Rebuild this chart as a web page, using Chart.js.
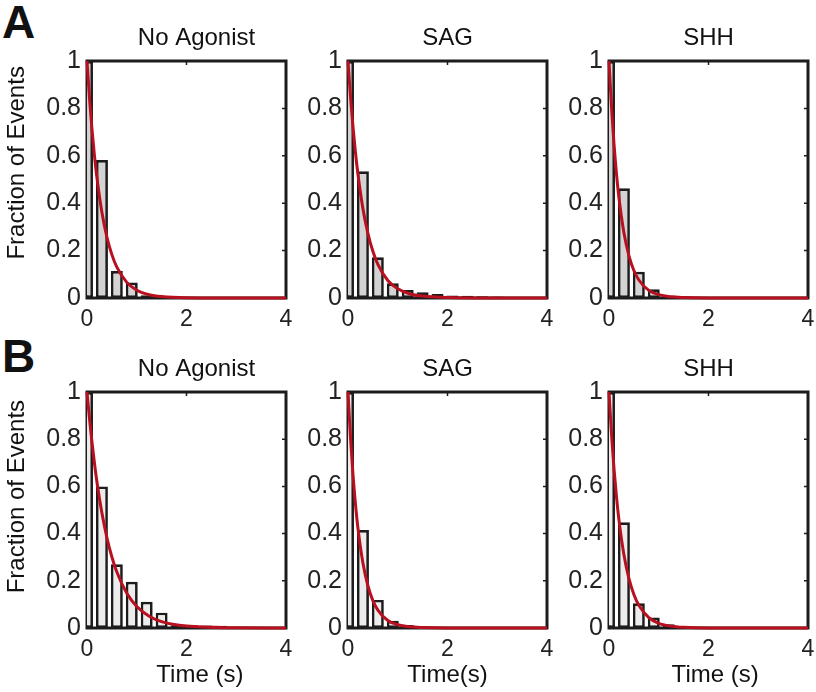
<!DOCTYPE html>
<html>
<head>
<meta charset="utf-8">
<script src="https://cdn.jsdelivr.net/npm/chart.js@4/dist/chart.umd.min.js"></script>
<style>
  body { margin: 0; background: #fff; }
  #wrap { position: relative; width: 816px; height: 692px; overflow: hidden; font-family: "Liberation Sans", Arial, sans-serif; }
  canvas { position: absolute; }
  .panel-letter { position: absolute; left: 2px; font-size: 46px; font-weight: bold; line-height: 46px; color: #111; }
</style>
</head>
<body>
<div id="wrap">
  <div class="panel-letter" style="top:-1px">A</div>
  <div class="panel-letter" style="top:333px">B</div>
</div>
<script>
// histogram bin centres (s) and bar heights
const binCenters = [0, 0.3, 0.6, 0.9, 1.2, 1.5, 1.8, 2.1, 2.4, 2.7, 3.0, 3.3, 3.6, 3.9];
const histNoAgonistA = [1, 0.582, 0.114, 0.065, 0.012];
const histSagA = [1, 0.535, 0.172, 0.062, 0.034, 0.024, 0.017, 0.011, 0.010, 0.007, 0.006, 0.003, 0.003, 0.002];
const histShhA = [1, 0.463, 0.111, 0.037, 0.009, 0.003, 0.002];
const histNoAgonistB = [1, 0.60, 0.27, 0.196, 0.111, 0.065, 0.012, 0.012, 0.011, 0.010];
const histSagB = [1, 0.415, 0.119, 0.031, 0.013, 0.005, 0.004];
const histShhB = [1, 0.448, 0.105, 0.045, 0.016, 0.009, 0.005, 0.003, 0.003, 0.002];

// red fit curves, sampled off the figure
const fitTimes = [0, 0.05, 0.1, 0.15, 0.2, 0.3, 0.4, 0.5, 0.6, 0.8, 1.0, 1.25, 1.5, 2, 3, 4];
const fitNoAgonistA = [1, 0.844, 0.712, 0.600, 0.507, 0.361, 0.257, 0.183, 0.130, 0.066, 0.033, 0.014, 0.006, 0.001, 0, 0];
const fitSagA = [1, 0.850, 0.723, 0.614, 0.522, 0.377, 0.273, 0.197, 0.142, 0.074, 0.039, 0.017, 0.008, 0.002, 0, 0];
const fitShhA = [1, 0.807, 0.651, 0.525, 0.423, 0.275, 0.179, 0.116, 0.076, 0.032, 0.014, 0.005, 0.002, 0, 0, 0];
const fitNoAgonistB = [1, 0.887, 0.787, 0.698, 0.619, 0.487, 0.383, 0.301, 0.237, 0.147, 0.091, 0.050, 0.027, 0.008, 0.001, 0];
const fitSagB = [1, 0.807, 0.651, 0.525, 0.423, 0.275, 0.179, 0.116, 0.076, 0.032, 0.014, 0.005, 0.002, 0, 0, 0];
const fitShhB = [1, 0.823, 0.677, 0.557, 0.458, 0.310, 0.210, 0.142, 0.096, 0.044, 0.020, 0.008, 0.003, 0, 0, 0];

const xTicks = [0, 2, 4];
const xTickLabels = ['0', '2', '4'];
const yTicks = [0, 0.2, 0.4, 0.6, 0.8, 1];
const yTickLabels = ['0', '0.2', '0.4', '0.6', '0.8', '1'];
const panelTitles = ['No Agonist', 'SAG', 'SHH'];
const xTitles = ['Time (s)', 'Time(s)', 'Time (s)'];
const yTitle = 'Fraction of Events';

const panels = [
  { row: 0, col: 0, hist: histNoAgonistA, fit: fitNoAgonistA },
  { row: 0, col: 1, hist: histSagA, fit: fitSagA },
  { row: 0, col: 2, hist: histShhA, fit: fitShhA },
  { row: 1, col: 0, hist: histNoAgonistB, fit: fitNoAgonistB },
  { row: 1, col: 1, hist: histSagB, fit: fitSagB },
  { row: 1, col: 2, hist: histShhB, fit: fitShhB }
];

// layout in page pixels
const canvasLeft = [0, 288, 549];
const yAxisWidth = [87, 60, 60];
const canvasWidth = [294, 267, 267];
const canvasTop = [0, 331];
const canvasHeight = [340, 361];
const xAxisHeight = [42, 64];
// the matlab labels sit a little off centre; nudge them with leading spaces
const titleNudge = [3, 0, 0];
const xTitleNudge = [4, 0, 2];
const yTitleNudge = [5, 4];
const barFill = ['#d3d3d3', '#ececec'];
const inkColor = '#1c1c1c';
const font = '"Liberation Sans", Arial, sans-serif';

// box round the plot area with small inward ticks, like matlab axes
const framePlugin = {
  id: 'frame',
  beforeDatasetsDraw(chart) {
    const { ctx, chartArea: a, scales } = chart;
    ctx.save();
    ctx.strokeStyle = inkColor;
    ctx.lineWidth = 3;
    ctx.strokeRect(a.left, a.top, a.right - a.left, a.bottom - a.top);
    ctx.lineWidth = 1.5;
    ctx.beginPath();
    scales.x.ticks.forEach(t => {
      const px = scales.x.getPixelForValue(t.value);
      ctx.moveTo(px, a.top); ctx.lineTo(px, a.top + 4);
    });
    scales.y.ticks.forEach(t => {
      const py = scales.y.getPixelForValue(t.value);
      ctx.moveTo(a.right, py); ctx.lineTo(a.right - 4, py);
    });
    ctx.stroke();
    ctx.restore();
  }
};

const wrap = document.getElementById('wrap');

panels.forEach(p => {
  const cv = document.createElement('canvas');
  cv.width = canvasWidth[p.col];
  cv.height = canvasHeight[p.row];
  cv.style.left = canvasLeft[p.col] + 'px';
  cv.style.top = canvasTop[p.row] + 'px';
  wrap.appendChild(cv);

  const bars = p.hist.map((v, i) => ({ x: binCenters[i], y: v }));
  const curve = p.fit.map((v, i) => ({ x: fitTimes[i], y: v }));

  new Chart(cv.getContext('2d'), {
    type: 'bar',
    data: {
      datasets: [
        {
          type: 'line',
          data: curve,
          borderColor: '#b8101f',
          borderWidth: 3,
          pointRadius: 0,
          cubicInterpolationMode: 'monotone',
          clip: 6,
          order: 0
        },
        {
          data: bars,
          backgroundColor: barFill[p.row],
          borderColor: inkColor,
          borderWidth: 2.7,
          borderSkipped: false,
          categoryPercentage: 1,
          barPercentage: 0.8,
          clip: 0,
          order: 1
        }
      ]
    },
    options: {
      responsive: false,
      animation: false,
      devicePixelRatio: 1,
      layout: { padding: { left: 0, top: 0, right: 8, bottom: 0 } },
      plugins: {
        legend: { display: false },
        tooltip: { enabled: false },
        title: {
          display: true,
          text: ' '.repeat(titleNudge[p.col]) + panelTitles[p.col],
          fullSize: false,
          color: '#111',
          font: { family: font, size: 24, weight: 'normal' },
          padding: { top: 24, bottom: 8.2 }
        }
      },
      scales: {
        x: {
          type: 'linear',
          min: 0,
          max: 4,
          offset: false,
          grid: { display: false, offset: false, drawTicks: false },
          border: { display: false },
          afterBuildTicks: s => { s.ticks = xTicks.map(v => ({ value: v })); },
          afterFit: s => { s.height = xAxisHeight[p.row]; s.paddingLeft = 0; s.paddingRight = 0; },
          ticks: {
            color: '#222', padding: 8, maxRotation: 0, autoSkip: false,
            font: { family: font, size: 23 },
            callback: (v, i) => xTickLabels[i]
          },
          title: {
            display: p.row === 1,
            text: ' '.repeat(xTitleNudge[p.col]) + xTitles[p.col],
            color: '#111',
            font: { family: font, size: 24 },
            padding: { top: 0, bottom: 2 }
          }
        },
        y: {
          min: 0,
          max: 1,
          grid: { display: false, drawTicks: false },
          border: { display: false },
          afterBuildTicks: s => { s.ticks = yTicks.map(v => ({ value: v })); },
          afterFit: s => { s.width = yAxisWidth[p.col]; s.paddingTop = 0; s.paddingBottom = 0; },
          ticks: {
            color: '#222', padding: 6,
            font: { family: font, size: 25 },
            callback: (v, i) => yTickLabels[i]
          },
          title: {
            display: p.col === 0,
            text: ' '.repeat(yTitleNudge[p.row]) + yTitle,
            color: '#111',
            font: { family: font, size: 24 },
            padding: { top: 3, bottom: 0 }
          }
        }
      }
    },
    plugins: [framePlugin]
  });
});
</script>
</body>
</html>
